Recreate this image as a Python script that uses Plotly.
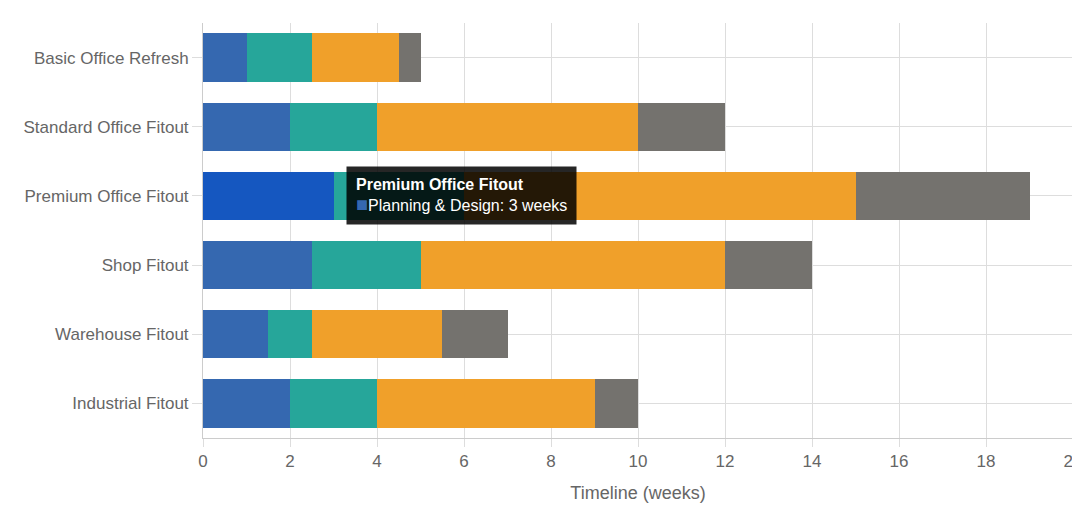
import plotly.graph_objects as go

projects = ["Basic Office Refresh", "Standard Office Fitout", "Premium Office Fitout",
            "Shop Fitout", "Warehouse Fitout", "Industrial Fitout"]
planning = [1, 2, 3, 2.5, 1.5, 2]
approvals = [1.5, 2, 3, 2.5, 1, 2]
construction = [2, 6, 9, 7, 3, 5]
handover = [0.5, 2, 4, 2, 1.5, 1]

phases = [
    ("Planning & Design", planning, "#3568b0"),
    ("Approvals", approvals, "#26a69a"),
    ("Construction", construction, "#f0a02a"),
    ("Handover", handover, "#74726e"),
]

fig = go.Figure()
for name, vals, col in phases:
    colors = [col] * len(projects)
    if name == "Planning & Design":
        colors[2] = "#1557c0"  # hovered bar
    fig.add_trace(go.Bar(y=projects, x=vals, name=name, orientation="h",
                         marker=dict(color=colors, line=dict(width=0))))

fig.add_annotation(
    x=3, y="Premium Office Fitout", xref="x", yref="y",
    xanchor="left", yanchor="middle", xshift=12, showarrow=False, align="left",
    text="<b>Premium Office Fitout</b><br><span style='color:#3568b0;font-size:20px'>■</span>Planning & Design: 3 weeks",
    font=dict(color="white", size=16, family="Arial"),
    bgcolor="rgba(0,0,0,0.85)", borderpad=9, bordercolor="rgba(0,0,0,0)",
)

fig.update_layout(
    barmode="stack", bargap=0.3, showlegend=False,
    width=1080, height=510, margin=dict(l=195, r=15, t=15, b=80),
    plot_bgcolor="white", paper_bgcolor="white",
    font=dict(family="Arial", size=17, color="#666"),
    xaxis=dict(range=[0, 20], dtick=2, showgrid=True, gridcolor="#ddd",
               title=dict(text="Timeline (weeks)", font=dict(size=18)),
               ticks="outside", tickcolor="#ddd", ticklen=8, zeroline=False,
               showline=True, linecolor="#ccc", automargin=False),
    yaxis=dict(autorange="reversed", showgrid=True, gridcolor="#ddd", automargin=False,
               ticks="outside", tickcolor="#ddd", ticklen=10, showline=True, linecolor="#ccc"),
)
fig.write_html("out.html")
